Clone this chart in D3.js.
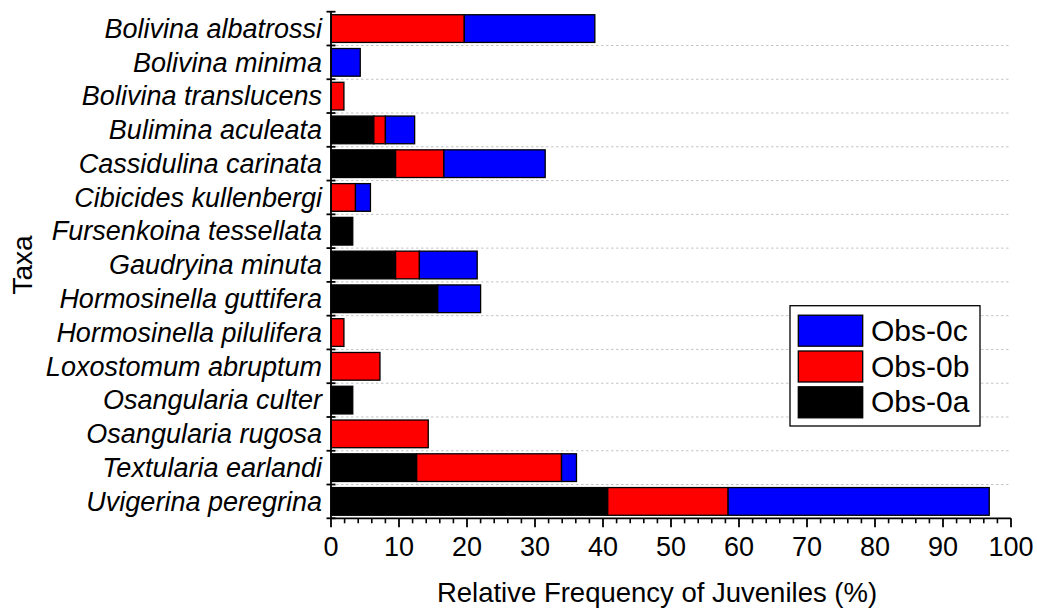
<!DOCTYPE html>
<html>
<head>
<meta charset="utf-8">
<script src="https://cdn.jsdelivr.net/npm/d3@7"></script>
<style>
  html, body { margin: 0; padding: 0; background: #fff; }
  svg { display: block; font-family: "Liberation Sans", Arial, sans-serif; }
</style>
</head>
<body>
<svg id="chart" width="1037" height="608"></svg>
<script>
// Taxa in plotting order (top to bottom)
const taxa = [
  "Bolivina albatrossi",
  "Bolivina minima",
  "Bolivina translucens",
  "Bulimina aculeata",
  "Cassidulina carinata",
  "Cibicides kullenbergi",
  "Fursenkoina tessellata",
  "Gaudryina minuta",
  "Hormosinella guttifera",
  "Hormosinella pilulifera",
  "Loxostomum abruptum",
  "Osangularia culter",
  "Osangularia rugosa",
  "Textularia earlandi",
  "Uvigerina peregrina"
];

// Relative frequency of juveniles (%) per station, stacked left to right
const obs0a = [0, 0, 0, 6.3, 9.5, 0, 3.2, 9.5, 15.7, 0, 0, 3.2, 0, 12.6, 40.7];
const obs0b = [19.6, 0, 1.9, 1.7, 7.1, 3.6, 0, 3.5, 0, 1.9, 7.2, 0, 14.3, 21.3, 17.7];
const obs0c = [19.2, 4.3, 0, 4.3, 14.9, 2.2, 0, 8.5, 6.3, 0, 0, 0, 0, 2.2, 38.4];

const seriesKeys = ["Obs-0a", "Obs-0b", "Obs-0c"];
const seriesColors = ["#000000", "#ff0000", "#0000ff"];
const legendOrder = ["Obs-0c", "Obs-0b", "Obs-0a"];

const xTicks = [0, 10, 20, 30, 40, 50, 60, 70, 80, 90, 100];

const rows = taxa.map((t, i) => ({
  taxon: t,
  "Obs-0a": obs0a[i],
  "Obs-0b": obs0b[i],
  "Obs-0c": obs0c[i]
}));

const svg = d3.select("#chart");
const plot = { left: 331, right: 1011, top: 11.7, bottom: 518.3 };

const x = d3.scaleLinear().domain([0, 100]).range([plot.left, plot.right]);
const y = d3.scaleBand().domain(taxa).range([plot.top, plot.bottom])
  .paddingInner(0.18).paddingOuter(0.09);
const color = d3.scaleOrdinal().domain(seriesKeys).range(seriesColors);

// dotted separators between category rows
const step = y.step();
const boundaries = d3.range(1, taxa.length).map(i => plot.top + i * step);
svg.append("g")
  .selectAll("line")
  .data(boundaries)
  .join("line")
  .attr("x1", plot.left).attr("x2", plot.right)
  .attr("y1", d => d).attr("y2", d => d)
  .attr("stroke", "#c4c4c4")
  .attr("stroke-width", 1)
  .attr("stroke-dasharray", "2.5,2.5");

// stacked bars
const stacked = d3.stack().keys(seriesKeys)(rows);
svg.append("g")
  .selectAll("g")
  .data(stacked)
  .join("g")
  .attr("fill", d => color(d.key))
  .selectAll("rect")
  .data(d => d.filter(s => s[1] - s[0] > 0))
  .join("rect")
  .attr("x", d => x(d[0]))
  .attr("width", d => x(d[1]) - x(d[0]))
  .attr("y", d => y(d.data.taxon))
  .attr("height", y.bandwidth())
  .attr("stroke", "#000")
  .attr("stroke-width", 1.3);

// x axis with major and minor ticks
const xAxis = svg.append("g");
xAxis.append("line")
  .attr("x1", plot.left).attr("x2", plot.right)
  .attr("y1", plot.bottom).attr("y2", plot.bottom)
  .attr("stroke", "#000").attr("stroke-width", 1.8);
const minor = d3.range(0, 101, 2).filter(v => v % 10 !== 0);
xAxis.selectAll("line.minor")
  .data(minor)
  .join("line")
  .attr("class", "minor")
  .attr("x1", d => x(d)).attr("x2", d => x(d))
  .attr("y1", plot.bottom).attr("y2", plot.bottom + 5)
  .attr("stroke", "#000").attr("stroke-width", 1.6);
xAxis.selectAll("line.major")
  .data(xTicks)
  .join("line")
  .attr("class", "major")
  .attr("x1", d => x(d)).attr("x2", d => x(d))
  .attr("y1", plot.bottom).attr("y2", plot.bottom + 9)
  .attr("stroke", "#000").attr("stroke-width", 1.8);
xAxis.selectAll("text")
  .data(xTicks)
  .join("text")
  .attr("x", d => x(d))
  .attr("y", 556)
  .attr("text-anchor", "middle")
  .attr("font-size", 27)
  .attr("fill", "#000")
  .text(d => d);

// y axis: spine, crossing ticks at row boundaries, italic taxon names
const yAxis = svg.append("g");
yAxis.append("line")
  .attr("x1", plot.left).attr("x2", plot.left)
  .attr("y1", plot.top).attr("y2", plot.bottom)
  .attr("stroke", "#000").attr("stroke-width", 1.8);
yAxis.selectAll("line.tick")
  .data(d3.range(0, taxa.length + 1).map(i => plot.top + i * step))
  .join("line")
  .attr("class", "tick")
  .attr("x1", plot.left - 4.5).attr("x2", plot.left + 4.5)
  .attr("y1", d => d).attr("y2", d => d)
  .attr("stroke", "#000").attr("stroke-width", 1.8);
yAxis.selectAll("text")
  .data(taxa)
  .join("text")
  .attr("x", 322)
  .attr("y", d => y(d) + y.bandwidth() / 2)
  .attr("dy", "0.34em")
  .attr("text-anchor", "end")
  .attr("font-size", 27)
  .attr("font-style", "italic")
  .attr("fill", "#000")
  .text(d => d);

// axis titles
svg.append("text")
  .attr("x", 657).attr("y", 601.5)
  .attr("text-anchor", "middle")
  .attr("font-size", 27.5)
  .attr("fill", "#000")
  .text("Relative Frequency of Juveniles (%)");
svg.append("text")
  .attr("transform", "translate(31.5,265) rotate(-90)")
  .attr("text-anchor", "middle")
  .attr("font-size", 28)
  .attr("fill", "#000")
  .text("Taxa");

// legend
const legend = svg.append("g").attr("transform", "translate(790,305.7)");
legend.append("rect")
  .attr("width", 190).attr("height", 120.3)
  .attr("fill", "#fff")
  .attr("stroke", "#000").attr("stroke-width", 1.3);
const item = legend.selectAll("g.item")
  .data(legendOrder)
  .join("g")
  .attr("class", "item")
  .attr("transform", (d, i) => `translate(0,${9.5 + i * 35.8})`);
item.append("rect")
  .attr("x", 8.3).attr("width", 64.4).attr("height", 31)
  .attr("fill", d => color(d))
  .attr("stroke", "#000").attr("stroke-width", 1.3);
item.append("text")
  .attr("x", 81).attr("y", 25.5)
  .attr("font-size", 30)
  .attr("fill", "#000")
  .text(d => d);
</script>
</body>
</html>
